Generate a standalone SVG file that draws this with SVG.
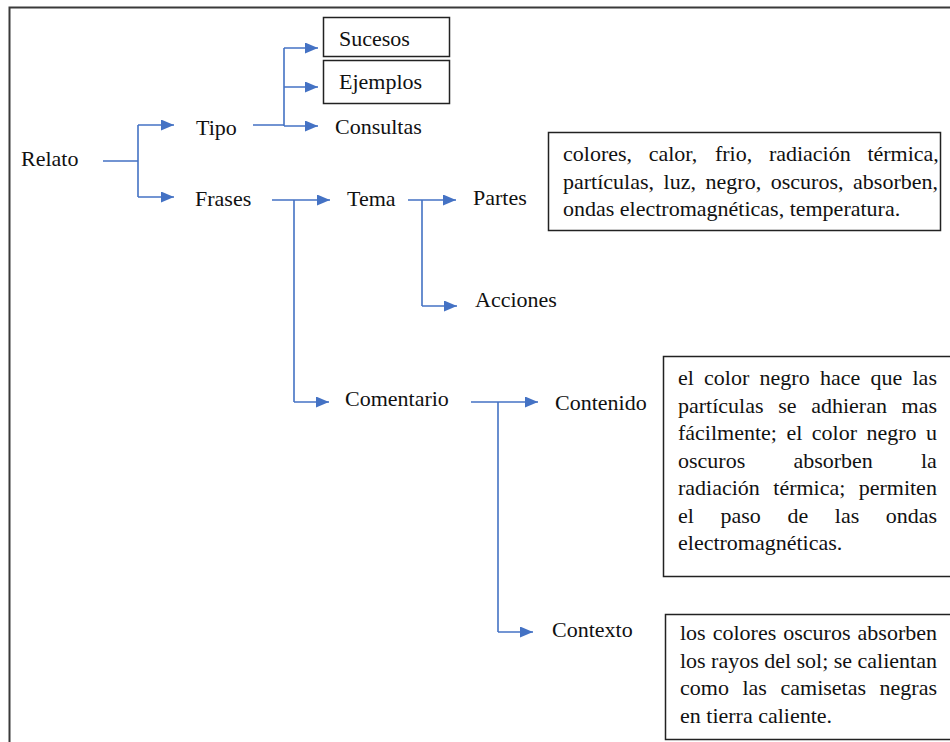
<svg xmlns="http://www.w3.org/2000/svg" width="950" height="742" viewBox="0 0 950 742">
<style>
text{font-family:'Liberation Serif','DejaVu Serif',serif;font-size:22px;fill:#111}
.box{fill:#fff;stroke:#222;stroke-width:1.5}
.c{fill:none;stroke:#4472C4;stroke-width:1.6}
.a{fill:none;stroke:#4472C4;stroke-width:1.6;marker-end:url(#ah)}
</style>
<defs>
<marker id="ah" markerUnits="userSpaceOnUse" markerWidth="13" markerHeight="11" refX="13" refY="5.5" orient="auto">
<path d="M0,0 L13,5.5 L0,11 z" fill="#4472C4"/>
</marker>
</defs>
<rect x="0" y="0" width="950" height="742" fill="#fff"/>
<rect x="9.5" y="7.5" width="1000" height="1000" fill="none" stroke="#3a3a3a" stroke-width="2"/>
<g id="connectors">
<path class="c" d="M103,161 H138 M138,125 V197"/>
<path class="a" d="M138,125 H174"/>
<path class="a" d="M138,197 H174"/>
<path class="c" d="M253,125 H284 M284,48 V126"/>
<path class="a" d="M284,48 H318"/>
<path class="a" d="M284,87 H318"/>
<path class="a" d="M284,126 H318"/>
<path class="c" d="M272,200 H294 M294,200 V402"/>
<path class="a" d="M294,200 H330"/>
<path class="a" d="M294,402 H329"/>
<path class="c" d="M408,200 H422 M422,200 V306"/>
<path class="a" d="M422,200 H456"/>
<path class="a" d="M422,306 H457"/>
<path class="c" d="M471,402 H498 M498,402 V632"/>
<path class="a" d="M498,402 H538"/>
<path class="a" d="M498,632 H533"/>
</g>
<g id="relato"><text x="21" y="166">Relato</text></g>
<g id="tipo"><text x="196" y="135">Tipo</text></g>
<g id="frases"><text x="195" y="206">Frases</text></g>
<g id="sucesos"><rect class="box" x="323.5" y="17.5" width="126" height="39"/><text x="339" y="46">Sucesos</text></g>
<g id="ejemplos"><rect class="box" x="323.5" y="60.5" width="126" height="43"/><text x="339" y="89">Ejemplos</text></g>
<g id="consultas"><text x="335" y="134">Consultas</text></g>
<g id="tema"><text x="347" y="206">Tema</text></g>
<g id="partes"><text x="473" y="205">Partes</text></g>
<g id="acciones"><text x="475" y="307">Acciones</text></g>
<g id="comentario"><text x="345" y="406">Comentario</text></g>
<g id="contenido"><text x="555" y="410">Contenido</text></g>
<g id="contexto"><text x="552" y="637">Contexto</text></g>
<g id="box-partes">
<rect class="box" x="548.5" y="132.5" width="392" height="98"/>
<text y="161"><tspan x="563">colores,</tspan><tspan x="648.7">calor,</tspan><tspan x="714.9">frio,</tspan><tspan x="768.9">radiación</tspan><tspan x="867.4">térmica,</tspan></text>
<text y="188.5"><tspan x="563">partículas,</tspan><tspan x="663.6">luz,</tspan><tspan x="705.6">negro,</tspan><tspan x="770.8">oscuros,</tspan><tspan x="853.1">absorben,</tspan></text>
<text x="563" y="216">ondas electromagnéticas, temperatura.</text>
</g>
<g id="box-contenido">
<rect class="box" x="663.5" y="356.5" width="300" height="220"/>
<text y="385"><tspan x="678">el</tspan><tspan x="704.1">color</tspan><tspan x="759.6">negro</tspan><tspan x="820">hace</tspan><tspan x="870.5">que</tspan><tspan x="912.5">las</tspan></text>
<text y="412.5"><tspan x="678">partículas</tspan><tspan x="778.2">se</tspan><tspan x="811.2">adhieran</tspan><tspan x="901.6">mas</tspan></text>
<text y="440"><tspan x="678">fácilmente;</tspan><tspan x="786.4">el</tspan><tspan x="811.8">color</tspan><tspan x="866.4">negro</tspan><tspan x="926">u</tspan></text>
<text y="467.5"><tspan x="678">oscuros</tspan><tspan x="793.4">absorben</tspan><tspan x="921">la</tspan></text>
<text y="495"><tspan x="678">radiación</tspan><tspan x="773.3">térmica;</tspan><tspan x="858.7">permiten</tspan></text>
<text y="522.5"><tspan x="678">el</tspan><tspan x="720.5">paso</tspan><tspan x="787.4">de</tspan><tspan x="834.8">las</tspan><tspan x="885.8">ondas</tspan></text>
<text x="678" y="550">electromagnéticas.</text>
</g>
<g id="box-contexto">
<rect class="box" x="665.5" y="614.5" width="300" height="125"/>
<text y="640"><tspan x="680">los</tspan><tspan x="712.7">colores</tspan><tspan x="783.3">oscuros</tspan><tspan x="857.6">absorben</tspan></text>
<text y="667.5"><tspan x="680">los</tspan><tspan x="711.1">rayos</tspan><tspan x="764.2">del</tspan><tspan x="796.5">sol;</tspan><tspan x="833.8">se</tspan><tspan x="857.6">calientan</tspan></text>
<text y="695"><tspan x="680">como</tspan><tspan x="742.4">las</tspan><tspan x="780.5">camisetas</tspan><tspan x="879.6">negras</tspan></text>
<text x="680" y="722.5">en tierra caliente.</text>
</g>
</svg>
